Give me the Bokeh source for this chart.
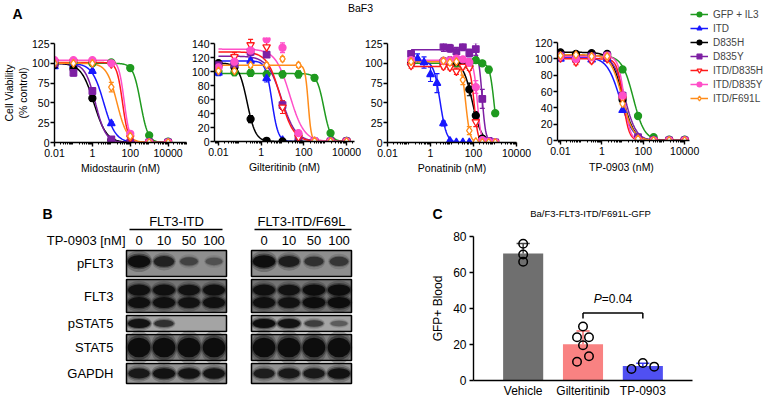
import numpy as np
from bokeh.plotting import figure
from bokeh.layouts import row, column
from bokeh.models import (FixedTicker, CustomJSTickFormatter, Label, Legend,
                          LegendItem, Range1d, Title, Whisker, TeeHead,
                          ColumnDataSource)
from bokeh.embed import file_html
from bokeh.resources import INLINE

FONT = "Liberation Sans"

# ------------------------------------------------------------------ Panel A data
SERIES = ["GFP + IL3", "ITD", "D835H", "D835Y", "ITD/D835H", "ITD/D835Y", "ITD/F691L"]

MIDO_CONC = [0.01, 0.1, 1, 10, 100, 1000, 10000]
MIDO_Y = {
    "GFP + IL3": [100, 101, 100, 101, 94, 9, 1],
    "ITD":       [96, 98, 90, 24, 2, 0, 0],
    "D835H":     [98, 93, 56, 3, 0, 0, 0],
    "D835Y":     [100, 88, 65, 4, 0, 0, 0],
    "ITD/D835H": [102, 102, 101, 99, 6, 0, 0],
    "ITD/D835Y": [104, 104, 104, 100, 11, 0, 0],
    "ITD/F691L": [100, 100, 100, 70, 8, 0, 0],
}
MIDO_SD = {
    "ITD":       [0, 0, 2, 2, 0, 0, 0],
    "D835H":     [0, 0, 4, 0, 0, 0, 0],
    "D835Y":     [0, 4, 3, 0, 0, 0, 0],
    "ITD/F691L": [0, 0, 0, 6, 2, 0, 0],
}
MIDO_FIT = {  # top, IC50 (nM), Hill slope
    "GFP + IL3": (100, 350, 2.2),
    "ITD":       (100, 4.0, 1.4),
    "D835H":     (100, 1.2, 1.3),
    "D835Y":     (100, 1.45, 1.6),
    "ITD/D835H": (101, 39, 2.9),
    "ITD/D835Y": (104, 48, 3.0),
    "ITD/F691L": (100, 20, 1.6),
}

GILT_CONC = [0.01, 0.056, 0.32, 1.8, 10, 56, 316, 1778, 10000]
GILT_Y = {
    "GFP + IL3": [100, 99, 98, 96, 96, 96, 91, 12, 1],
    "ITD":       [98, 114, 115, 90, 2, 0, 0, 0, 0],
    "D835H":     [112, 106, 32, 1, 0, 0, 0, 0, 0],
    "D835Y":     [109, 111, 128, 124, 52, 7, 0, 0, 0],
    "ITD/D835H": [105, 121, 138, 135, 49, 6, 0, 0, 0],
    "ITD/D835Y": [106, 114, 130, 146, 134, 12, 1, 0, 0],
    "ITD/F691L": [101, 101, 109, 109, 118, 109, 1, 0, 0],
}
GILT_SD = {
    "GFP + IL3": [5, 5, 5, 5, 5, 5, 4, 2, 0],
    "ITD":       [4, 3, 3, 5, 0, 0, 0, 0, 0],
    "D835H":     [0, 2, 5, 0, 0, 0, 0, 0, 0],
    "D835Y":     [3, 4, 5, 4, 6, 3, 0, 0, 0],
    "ITD/D835H": [6, 6, 8, 9, 9, 2, 0, 0, 0],
    "ITD/D835Y": [4, 5, 5, 4, 7, 2, 0, 0, 0],
    "ITD/F691L": [4, 3, 3, 3, 3, 3, 0, 0, 0],
}
GILT_FIT = {
    "GFP + IL3": (97, 860, 2.7),
    "ITD":       (115, 3.2, 3.0),
    "D835H":     (112, 0.22, 2.2),
    "D835Y":     (122, 9, 1.3),
    "ITD/D835H": (128, 8, 1.4),
    "ITD/D835Y": (132, 22, 1.3),
    "ITD/F691L": (109, 160, 6.0),
}

PONA_CONC = [0.125, 4, 8, 16, 32, 64, 128, 256, 512, 1024]
PONA_CONC_ITD = [0.125, 0.25, 0.5, 1, 2, 4, 8, 16, 32, 64]
PONA_Y = {
    "GFP + IL3": [100, 99, 98, 100, 98, 97, 104, 100, 92, 37],
    "ITD":       [101, 106, 101, 86, 75, 24, 2, 0, 0, 0],
    "D835H":     [101, 103, 104, 102, 100, 67, 34, 5, 1, 0],
    "D835Y":     [112, 121, 119, 115, 121, 113, 118, 55, 2, 0],
    "ITD/D835H": [97, 96, 95, 90, 96, 94, 26, 2, 0, 0],
    "ITD/D835Y": [104, 103, 104, 106, 105, 101, 70, 3, 1, 0],
    "ITD/F691L": [102, 103, 101, 102, 79, 15, 1, 0, 0, 0],
}
PONA_SD = {
    "GFP + IL3": [4, 3, 3, 3, 3, 3, 3, 3, 4, 2],
    "ITD":       [3, 6, 7, 9, 12, 3, 1, 0, 0, 0],
    "D835H":     [2, 2, 2, 2, 3, 8, 5, 2, 0, 0],
    "D835Y":     [3, 6, 5, 5, 5, 5, 8, 12, 1, 0],
    "ITD/D835H": [3, 3, 3, 4, 3, 3, 6, 1, 0, 0],
    "ITD/D835Y": [2, 2, 3, 3, 3, 5, 8, 1, 0, 0],
    "ITD/F691L": [2, 2, 2, 2, 6, 5, 1, 0, 0, 0],
}
PONA_FIT = {
    "GFP + IL3": (100, 900, 4.3),
    "ITD":       (103, 2.8, 2.9),
    "D835H":     (103, 88, 2.0),
    "D835Y":     (117, 250, 5.0),
    "ITD/D835H": (96, 108, 5.0),
    "ITD/D835Y": (104, 150, 5.0),
    "ITD/F691L": (102, 43, 4.3),
}

TP_CONC = [0.01, 0.056, 0.32, 1.8, 10, 56, 316, 1778, 10000]
TP_Y = {
    "GFP + IL3": [103, 102, 103, 104, 87, 30, 4, 1, 1],
    "ITD":       [100, 101, 99, 100, 37, 1, 0, 0, 0],
    "D835H":     [108, 106, 107, 106, 50, 3, 0, 0, 0],
    "D835Y":     [104, 100, 103, 104, 55, 4, 0, 0, 0],
    "ITD/D835H": [101, 96, 98, 100, 51, 0, 0, 0, 0],
    "ITD/D835Y": [103, 100, 102, 104, 55, 1, 0, 0, 0],
    "ITD/F691L": [104, 105, 103, 103, 45, 2, 0, 0, 0],
}
TP_SD = {
    "GFP + IL3": [2, 2, 2, 2, 3, 3, 1, 0, 0],
    "D835Y":     [2, 2, 2, 2, 4, 2, 0, 0, 0],
    "ITD/D835H": [3, 3, 3, 3, 3, 0, 0, 0, 0],
    "ITD/D835Y": [2, 2, 2, 2, 4, 2, 0, 0, 0],
}
TP_FIT = {
    "GFP + IL3": (104, 33, 1.6),
    "ITD":       (102, 7.5, 1.4),
    "D835H":     (108, 10, 1.6),
    "D835Y":     (104, 13, 1.6),
    "ITD/D835H": (100, 10.5, 3.0),
    "ITD/D835Y": (103, 12, 3.0),
    "ITD/F691L": (105, 9.5, 1.6),
}

# ------------------------------------------------------------------ Panel B data
BLOT_GROUPS = ["FLT3-ITD", "FLT3-ITD/F69L"]
BLOT_LANES = ["0", "10", "50", "100"]
BLOT_ROWS = ["pFLT3", "FLT3", "pSTAT5", "STAT5", "GAPDH"]
BLOT_ITD = {
    "pFLT3":  [1.0, 0.75, 0.45, 0.35],
    "FLT3":   [0.95, 0.95, 0.9, 0.95],
    "pSTAT5": [0.95, 0.65, 0.0, 0.0],
    "STAT5":  [1.0, 1.0, 1.0, 1.0],
    "GAPDH":  [0.85, 0.95, 0.9, 0.9],
}
BLOT_F691L = {
    "pFLT3":  [1.0, 0.8, 0.6, 0.55],
    "FLT3":   [0.95, 0.9, 1.0, 1.0],
    "pSTAT5": [1.0, 0.95, 0.55, 0.35],
    "STAT5":  [1.0, 1.0, 1.0, 1.0],
    "GAPDH":  [0.8, 0.85, 0.85, 0.95],
}

# ------------------------------------------------------------------ Panel C data
C_GROUPS = ["Vehicle", "Gilteritinib", "TP-0903"]
C_MEAN = [70.5, 20.2, 8.0]
C_SD = [5.6, 7.3, 1.6]
C_PTS_VEH = [76.0, 70.0, 66.0]
C_PTS_GIL = [30.0, 24.0, 24.0, 19.6, 10.4, 13.5]
C_PTS_TP = [6.4, 9.7, 7.7]
C_P_VALUE = "0.04"
C_BRACKET_Y = 37.5

# ------------------------------------------------------------------ styles
COLORS = {"GFP + IL3": "#1f9a1f", "ITD": "#1818ff", "D835H": "#000000",
          "D835Y": "#7d1fa3", "ITD/D835H": "#ff1a1a", "ITD/D835Y": "#ff4fc8",
          "ITD/F691L": "#ff8c1a"}
MARKERS = {"GFP + IL3": "circle", "ITD": "triangle", "D835H": "circle",
           "D835Y": "square", "ITD/D835H": "inverted_triangle",
           "ITD/D835Y": "circle", "ITD/F691L": "diamond"}
SIZES = {"GFP + IL3": 7, "ITD": 7.5, "D835H": 7, "D835Y": 6.5,
         "ITD/D835H": 7.5, "ITD/D835Y": 7, "ITD/F691L": 8}
FILLS = {k: COLORS[k] for k in SERIES}
FILLS["ITD/D835H"] = "white"
FILLS["ITD/F691L"] = "white"

MINOR_TICKS = [k * 10.0 ** e for e in range(-3, 6) for k in range(2, 10)]


def base_fig(w, h, bl, br, bt, bb, **kw):
    p = figure(width=w, height=h, output_backend="svg", toolbar_location=None,
               title=None, min_border_left=bl, min_border_right=br,
               min_border_top=bt, min_border_bottom=bb, **kw)
    p.outline_line_color = None
    p.grid.visible = False
    p.background_fill_color = "white"
    p.border_fill_color = "white"
    p.frame_align = False
    return p


def text_fig(w, h, xr, yr):
    return base_fig(w, h, 0, 0, 0, 0, x_range=Range1d(*xr), y_range=Range1d(*yr),
                    x_axis_location=None, y_axis_location=None)


def style_axes(p, fs):
    for ax in p.axis:
        ax.axis_line_width = 1.4
        ax.axis_line_color = "black"
        ax.major_tick_line_width = 1.4
        ax.major_tick_line_color = "black"
        ax.major_tick_in = 0
        ax.major_tick_out = 4
        ax.minor_tick_in = 0
        ax.minor_tick_out = 2
        ax.minor_tick_line_color = "black"
        ax.major_label_text_font = FONT
        ax.major_label_text_font_size = fs
        ax.major_label_text_color = "black"
        ax.axis_label_text_font = FONT
        ax.axis_label_text_font_size = fs
        ax.axis_label_text_font_style = "normal"
        ax.axis_label_text_color = "black"


def add_text(p, text, x, y, size, align="center", baseline="middle", style="normal"):
    p.add_layout(Label(x=x, y=y, text=text, text_font=FONT, text_font_size=size,
                       text_align=align, text_baseline=baseline,
                       text_font_style=style, text_color="black"))


def make_title(text, align, offset, standoff, size="10.5px"):
    return Title(text=text, align=align, offset=offset, standoff=standoff,
                 text_font=FONT, text_font_size=size, text_font_style="normal",
                 text_color="black")


def dose_panel(conc_map, ydata, sdata, fits, xlabel, xr, y_end, yticks,
               w, h, bl, br, bt, bb, axis_end=None):
    p = base_fig(w, h, bl, br, bt, bb, x_axis_type="log",
                 x_range=Range1d(*xr), y_range=Range1d(0, y_end))
    style_axes(p, "10.5px")
    x_hi = axis_end if axis_end is not None else xr[1]
    minors = [t for t in MINOR_TICKS if xr[0] <= t <= x_hi]
    p.xaxis.ticker = FixedTicker(ticks=[0.01, 1, 100, 10000], minor_ticks=minors)
    p.xaxis.formatter = CustomJSTickFormatter(code="return String(tick);")
    if axis_end is not None:
        p.xaxis.bounds = (xr[0], axis_end)
    if xlabel:
        p.xaxis.axis_label = xlabel
    p.xaxis.major_label_standoff = 2
    p.xaxis.axis_label_standoff = 2
    p.yaxis.ticker = FixedTicker(ticks=yticks)
    p.yaxis.bounds = (0, yticks[-1])
    p.yaxis.minor_tick_line_color = None
    p.yaxis.major_label_standoff = 1
    lines, pts = {}, {}
    for name in SERIES:
        conc = conc_map[name]
        top, ic, hill = fits[name]
        xs = np.logspace(np.log10(conc[0]), np.log10(conc[-1]), 160)
        ys = top / (1.0 + (xs / ic) ** hill)
        lines[name] = p.line(xs, ys, line_color=COLORS[name], line_width=1.5)
    for name in SERIES:
        if name in sdata:
            c = np.array(conc_map[name], dtype=float)
            y = np.array(ydata[name], dtype=float)
            s = np.array(sdata[name], dtype=float)
            keep = s > 0
            src = ColumnDataSource(dict(x=c[keep], lo=(y - s)[keep], hi=(y + s)[keep]))
            p.add_layout(Whisker(source=src, base="x", lower="lo", upper="hi",
                                 line_color=COLORS[name], line_width=1.2,
                                 upper_head=TeeHead(size=5, line_color=COLORS[name], line_width=1.2),
                                 lower_head=TeeHead(size=5, line_color=COLORS[name], line_width=1.2)))
    for name in SERIES:
        pts[name] = p.scatter(conc_map[name], ydata[name], marker=MARKERS[name],
                              size=SIZES[name], fill_color=FILLS[name],
                              line_color=COLORS[name], line_width=1.3)
    return p, lines, pts


# ------------------------------------------------------------------ Panel A
strip_a = text_fig(531, 22, (0, 531), (22, 0))
add_text(strip_a, "A", 17, 13.5, "14px", style="bold")
add_text(strip_a, "BaF3", 360, 7.5, "10.5px")

p1, _, _ = dose_panel({n: MIDO_CONC for n in SERIES}, MIDO_Y, MIDO_SD, MIDO_FIT,
                      "Midostaurin (nM)", (0.01, 10 ** 4.97), 125,
                      [0, 25, 50, 75, 100, 125], 188, 154, 50, 2, 21, 34)
for txt in ["(% control)", "Cell Viability"]:
    p1.add_layout(make_title(txt, "center", 0, 0), "left")

p2, _, _ = dose_panel({n: GILT_CONC for n in SERIES}, GILT_Y, GILT_SD, GILT_FIT,
                      "Gilteritinib (nM)", (10 ** -2.186, 10 ** 4.372), 148.6,
                      [0, 20, 40, 60, 80, 100, 120, 140], 173, 154, 25, 7, 15, 35)

pona_conc = {n: (PONA_CONC_ITD if n == "ITD" else PONA_CONC) for n in SERIES}
p3, _, _ = dose_panel(pona_conc, PONA_Y, PONA_SD, PONA_FIT,
                      "Ponatinib (nM)", (0.01, 10000.5), 125,
                      [0, 25, 50, 75, 100, 125], 170, 154, 23, 15, 21, 32)

# TP-0903 panel: frame extended to the right edge / top so the legend sits inside it
P4_X0, P4_X1 = 10 ** -2.143, 10 ** 4.238
p4, l4, s4 = dose_panel({n: TP_CONC for n in SERIES}, TP_Y, TP_SD, TP_FIT,
                        "", (P4_X0, 10 ** 7.905), 164.1,
                        [0, 20, 40, 60, 80, 100, 120], 234, 176, 23, 0, 6, 36,
                        axis_end=P4_X1)
p4.add_layout(make_title("TP-0903 (nM)", "left", 31.6, 2), "below")
legend = Legend(items=[LegendItem(label=n, renderers=[l4[n], s4[n]]) for n in SERIES],
                location="top_right", orientation="vertical",
                label_text_font=FONT, label_text_font_size="10px",
                glyph_width=18, glyph_height=12, label_height=12, label_standoff=5,
                spacing=2, padding=0, margin=2, border_line_color=None,
                background_fill_alpha=0)
p4.add_layout(legend)

# ------------------------------------------------------------------ Panel B (blot)
ROW_H = [26, 33, 16, 26, 20]
ROW_GAP = 3
ROW_TOP0 = 74
BAND_POS = {"pFLT3": [0.42], "FLT3": [0.32, 0.7], "pSTAT5": [0.5],
            "STAT5": [0.5], "GAPDH": [0.5]}
BAND_H = {"pFLT3": 0.42, "FLT3": 0.3, "pSTAT5": 0.5, "STAT5": 0.66, "GAPDH": 0.48}
BG = {"pFLT3": "#8e8e8e", "FLT3": "#747474", "pSTAT5": "#a4a4a4",
      "STAT5": "#7e7e7e", "GAPDH": "#939393"}

pb = text_fig(380, 224, (-5.54, 9.66), (224, 0))

tops = [ROW_TOP0]
for hgt in ROW_H[:-1]:
    tops.append(tops[-1] + hgt + ROW_GAP)

bx, by, bw, bh, bc = [], [], [], [], []
ex, ey, ew, eh, ea = [], [], [], [], []
for gi, ints in enumerate([BLOT_ITD, BLOT_F691L]):
    off = gi * 5
    for ri, rname in enumerate(BLOT_ROWS):
        top, hgt = tops[ri], ROW_H[ri]
        bx.append(1.5 + off); by.append(top + hgt / 2); bw.append(4.0); bh.append(hgt)
        bc.append(BG[rname])
        for li, inten in enumerate(ints[rname]):
            if inten <= 0:
                continue
            for pos in BAND_POS[rname]:
                hh = hgt * BAND_H[rname] * (0.45 + 0.7 * inten)
                ex.append(li + off); ey.append(top + hgt * pos)
                ew.append(0.6 + 0.38 * inten); eh.append(hh); ea.append(inten)
pb.rect(x=bx, y=by, width=bw, height=bh, fill_color=bc, line_color=None)
ea = np.array(ea)
ew = np.array(ew)
eh = np.array(eh)
pb.ellipse(x=ex, y=ey, width=ew * 1.08, height=eh * 1.7,
           fill_color="#2a2a2a", fill_alpha=0.3 * ea, line_color=None)
pb.ellipse(x=ex, y=ey, width=ew * 1.02, height=eh * 1.25,
           fill_color="#151515", fill_alpha=0.45 * ea, line_color=None)
pb.ellipse(x=ex, y=ey, width=ew * 0.92, height=eh,
           fill_color="#080808", fill_alpha=0.9 * ea, line_color=None)
pb.rect(x=bx, y=by, width=bw, height=bh, fill_color=None, line_color="black",
        line_width=1.5)

for gi, grp in enumerate(BLOT_GROUPS):
    off = gi * 5
    add_text(pb, grp, 1.5 + off, 45, "13px")
    for li, lab in enumerate(BLOT_LANES):
        add_text(pb, lab, li + off, 64, "13px")
pb.segment(x0=[-0.38, 4.62], y0=[53, 53], x1=[3.34, 8.5], y1=[53, 53],
           line_color="black", line_width=1.5)
add_text(pb, "TP-0903 [nM]", -0.54, 64, "13px", align="right")
for ri, rname in enumerate(BLOT_ROWS):
    add_text(pb, rname, -1.02, tops[ri] + ROW_H[ri] / 2, "13px", align="right")
add_text(pb, "B", -3.66, 37, "14px", style="bold")

# ------------------------------------------------------------------ Panel C
strip_c = text_fig(385, 46, (380, 765), (222, 176))
add_text(strip_c, "C", 437, 213, "14px", style="bold")
add_text(strip_c, "Ba/F3-FLT3-ITD/F691L-GFP", 590, 213, "9.5px")

pc = base_fig(385, 178, 93, 73, 14, 19, x_range=Range1d(-0.83, 2.83),
              y_range=Range1d(0, 80))
style_axes(pc, "12px")
pc.xaxis.ticker = FixedTicker(ticks=[0, 1, 2])
pc.xaxis.major_label_overrides = {0: C_GROUPS[0], 1: C_GROUPS[1], 2: C_GROUPS[2]}
pc.xaxis.major_tick_out = 0
pc.xaxis.major_tick_line_color = None
pc.xaxis.minor_tick_line_color = None
pc.xaxis.major_label_standoff = 3
pc.yaxis.ticker = FixedTicker(ticks=[0, 20, 40, 60, 80])
pc.yaxis.bounds = (0, 80)
pc.yaxis.minor_tick_line_color = None
pc.yaxis.major_label_standoff = 3
pc.yaxis.axis_label = "GFP+ Blood"
pc.yaxis.axis_label_standoff = 5

BAR_COLORS = ["#6f6f6f", "#f98282", "#5050f2"]
ERR_COLORS = ["#444444", "#f76b6b", "#3a3af0"]
xs = np.arange(len(C_GROUPS))
pc.vbar(x=xs, top=C_MEAN, width=0.67, fill_color=BAR_COLORS, line_color=None)
up = np.array(C_MEAN) + np.array(C_SD)
pc.segment(x0=xs, y0=C_MEAN, x1=xs, y1=up, line_color=ERR_COLORS, line_width=1.5)
pc.segment(x0=xs - 0.11, y0=up, x1=xs + 0.11, y1=up, line_color=ERR_COLORS, line_width=1.5)

JIT = [[0, 0, 0], [0, -0.1, 0.1, 0, -0.1, 0.1], [-0.19, 0, 0.19]]
for i, pts in enumerate([C_PTS_VEH, C_PTS_GIL, C_PTS_TP]):
    pc.scatter(x=[i + j for j in JIT[i]], y=pts, marker="circle", size=8.5,
               fill_alpha=0, line_color="black", line_width=1.5)

pc.segment(x0=[1, 1, 2], y0=[C_BRACKET_Y, C_BRACKET_Y, C_BRACKET_Y],
           x1=[2, 1, 2], y1=[C_BRACKET_Y, C_BRACKET_Y - 3.1, C_BRACKET_Y - 3.1],
           line_color="black", line_width=1.5)
add_text(pc, "P", 1.313, 45.3, "12px", align="right", style="italic")
add_text(pc, "=" + C_P_VALUE, 1.313, 45.3, "12px", align="left")

layout = column(
    row(column(strip_a, row(p1, p2, p3)), p4),
    row(pb, column(strip_c, pc)),
)
open("out.html", "w").write(file_html(layout, INLINE))
